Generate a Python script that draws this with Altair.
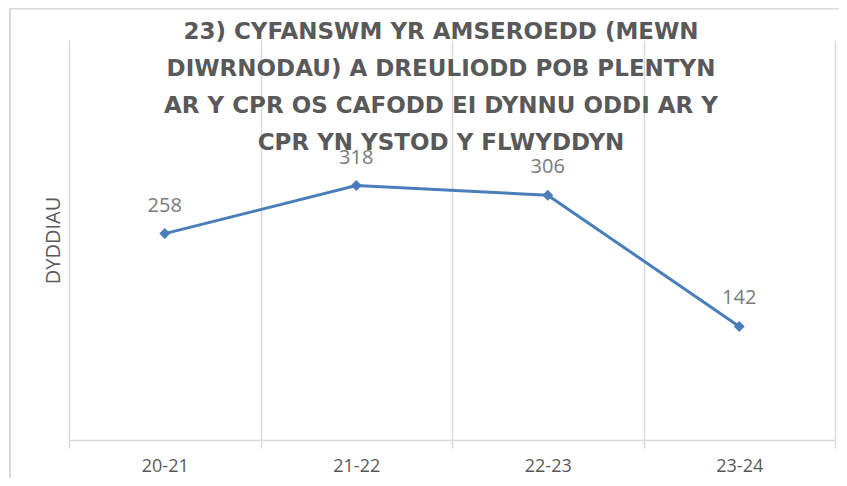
import altair as alt
import pandas as pd

periods = ["20-21", "21-22", "22-23", "23-24"]
days = [258, 318, 306, 142]

title_lines = [
    "23) CYFANSWM YR AMSEROEDD (MEWN",
    "DIWRNODAU) A DREULIODD POB PLENTYN",
    "AR Y CPR OS CAFODD EI DYNNU ODDI AR Y",
    "CPR YN YSTOD Y FLWYDDYN",
]

df = pd.DataFrame({"period": periods, "days": days})

LINE = "#4a7ebb"
GRID = "#d9d9d9"

base = alt.Chart(df)

x_enc = alt.X(
    "period:N",
    sort=periods,
    scale=alt.Scale(paddingInner=0, paddingOuter=0),
    axis=alt.Axis(
        title=None,
        labelAngle=0,
        tickBand="extent",
        grid=True,
        gridColor=GRID,
        gridWidth=1.5,
        domainColor=GRID,
        domainWidth=1.5,
        tickColor=GRID,
        tickWidth=1.5,
        tickSize=8,
        labelFont="Open Sans",
        labelFontSize=18,
        labelColor="#595959",
        labelPadding=9,
    ),
)
y_enc = alt.Y(
    "days:Q",
    scale=alt.Scale(domain=[0, 500], nice=False),
    axis=alt.Axis(
        title="DYDDIAU",
        labels=False,
        ticks=False,
        domain=False,
        grid=False,
        titleFont="Open Sans",
        titleFontSize=20,
        titleFontWeight="normal",
        titleColor="#595959",
        titlePadding=6,
    ),
)

frame = alt.Chart(pd.DataFrame({"a": [0]})).mark_rect(
    fill=None, stroke=GRID, strokeWidth=2
).encode(
    x=alt.value(-59), x2=alt.value(900), y=alt.value(-31.5), y2=alt.value(500)
)

line = base.mark_line(
    color=LINE, strokeWidth=3,
    point=alt.OverlayMarkDef(shape="diamond", size=120, color=LINE, filled=True, opacity=1),
).encode(x=x_enc, y=y_enc)

labels = base.mark_text(
    font="Open Sans", fontSize=20, color="#7a7a7a", dy=-28, baseline="middle"
).encode(x=alt.X("period:N", sort=periods), y="days:Q", text="days:Q")

chart = alt.layer(frame, line, labels).properties(
    width=766,
    height=400,
    title=alt.TitleParams(
        text=title_lines,
        font="DejaVu Sans",
        fontSize=23,
        fontWeight="bold",
        color="#595959",
        lineHeight=37,
        anchor="middle",
        frame="group",
        dx=-11,
        offset=-147,
    ),
    autosize=alt.AutoSizeParams(type="none"),
    padding={"left": 61, "top": 32, "right": 4, "bottom": 38},
).configure_view(strokeWidth=0)

chart.save("out.html", embed_options={"renderer": "svg", "actions": False})
